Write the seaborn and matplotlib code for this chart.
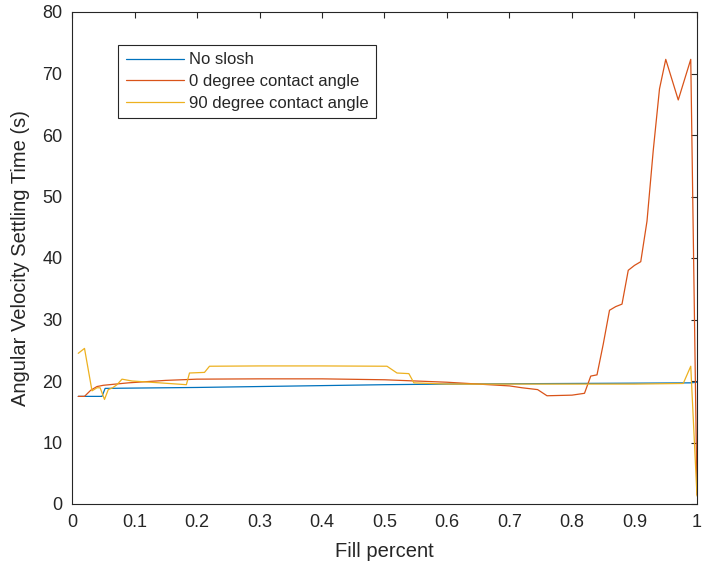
import numpy as np
import pandas as pd
import matplotlib
matplotlib.use("Agg")
import matplotlib.pyplot as plt
import seaborn as sns

# ---- data ----
series_names = ["No slosh", "0 degree contact angle", "90 degree contact angle"]

x_noslosh = [0.01, 0.02, 0.03, 0.04, 0.048, 0.053, 0.1, 0.2, 0.3, 0.4, 0.5, 0.6, 0.7, 0.8, 0.9, 0.99, 1.0]
y_noslosh = [17.5, 17.5, 17.5, 17.5, 17.5, 18.8, 18.85, 18.95, 19.1, 19.25, 19.4, 19.5, 19.55, 19.6, 19.65, 19.7, 19.8]

x_zero = [0.01, 0.02, 0.03, 0.04, 0.05, 0.07, 0.09, 0.15, 0.2, 0.3, 0.4, 0.5, 0.55, 0.6, 0.65, 0.7,
          0.72, 0.745, 0.76, 0.8, 0.82, 0.83, 0.84, 0.85, 0.86, 0.87, 0.88, 0.89, 0.90, 0.91,
          0.92, 0.93, 0.94, 0.95, 0.96, 0.97, 0.98, 0.99, 1.0]
y_zero = [17.5, 17.5, 18.5, 19.1, 19.3, 19.5, 19.7, 20.1, 20.3, 20.35, 20.35, 20.2, 20.0, 19.8, 19.5, 19.2,
          18.9, 18.6, 17.6, 17.7, 18.0, 20.8, 21.0, 26.0, 31.5, 32.1, 32.5, 38.0, 38.8, 39.4,
          46.0, 57.5, 67.5, 72.3, 69.0, 65.7, 69.0, 72.3, 1.5]

x_ninety = [0.01, 0.02, 0.032, 0.04, 0.045, 0.052, 0.058, 0.065, 0.072, 0.08, 0.096, 0.14, 0.183, 0.188,
            0.212, 0.22, 0.3, 0.4, 0.504, 0.52, 0.539, 0.547, 0.6, 0.7, 0.8, 0.9, 0.978, 0.99, 1.0]
y_ninety = [24.5, 25.3, 18.4, 18.9, 18.9, 17.0, 18.6, 18.9, 19.4, 20.3, 20.0, 19.7, 19.4, 21.3,
            21.4, 22.4, 22.45, 22.45, 22.4, 21.3, 21.2, 19.7, 19.5, 19.5, 19.5, 19.5, 19.6, 22.4, 1.3]

x_ticks = [0, 0.1, 0.2, 0.3, 0.4, 0.5, 0.6, 0.7, 0.8, 0.9, 1]
x_tick_labels = ["0", "0.1", "0.2", "0.3", "0.4", "0.5", "0.6", "0.7", "0.8", "0.9", "1"]
y_ticks = [0, 10, 20, 30, 40, 50, 60, 70, 80]

colors = ["#0072BD", "#D95319", "#EDB120"]

# ---- build long-form table ----
frames = []
for name, xs, ys in zip(series_names,
                        [x_noslosh, x_zero, x_ninety],
                        [y_noslosh, y_zero, y_ninety]):
    frames.append(pd.DataFrame({"Fill percent": xs, "value": ys, "series": name}))
df = pd.concat(frames, ignore_index=True)

sns.set_theme(style="white")
plt.rcParams["font.family"] = ["Liberation Sans", "DejaVu Sans"]
text_color = "#262626"
plt.rcParams["text.color"] = text_color
plt.rcParams["axes.labelcolor"] = text_color
plt.rcParams["xtick.color"] = text_color
plt.rcParams["ytick.color"] = text_color

fig = plt.figure(figsize=(7.09, 5.67), dpi=100)
ax = fig.add_axes([72 / 709, (567 - 504) / 567, 625 / 709, 492 / 567])

sns.lineplot(data=df, x="Fill percent", y="value", hue="series", hue_order=series_names,
             palette=colors, estimator=None, sort=False, linewidth=0.9, ax=ax)

ax.set_xlim(0, 1)
ax.set_ylim(0, 80)
ax.set_xticks(x_ticks)
ax.set_xticklabels(x_tick_labels)
ax.set_yticks(y_ticks)
ax.tick_params(direction="in", top=True, right=True, length=4.5, width=0.8,
               labelsize=13, pad=7)
for s in ax.spines.values():
    s.set_visible(True)
    s.set_color(text_color)
    s.set_linewidth(0.8)

ax.set_xlabel("Fill percent", fontsize=14.5, labelpad=8)
ax.set_ylabel("Angular Velocity Settling Time (s)", fontsize=14.5, labelpad=9)

handles, labels = ax.get_legend_handles_labels()
leg = ax.legend(handles, labels, loc="upper left", bbox_to_anchor=(0.0736, 0.933),
                fontsize=12, handlelength=3.5, handletextpad=0.3, borderpad=0.45,
                labelspacing=0.4, fancybox=False, framealpha=1, borderaxespad=0)
leg.get_frame().set_edgecolor(text_color)
leg.get_frame().set_linewidth(0.8)

fig.savefig("out.png", dpi=100)
